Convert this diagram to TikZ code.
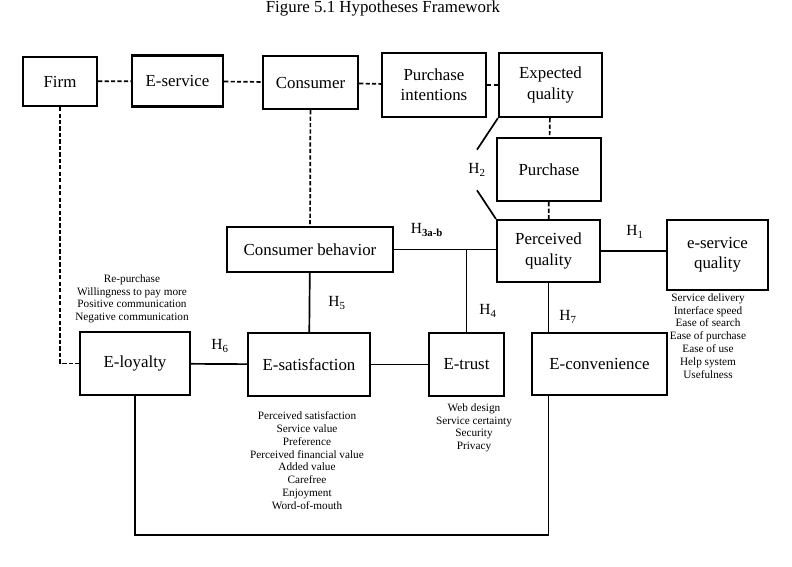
\documentclass[tikz,border=0pt]{standalone}
\usepackage{fontspec}
\setmainfont{Liberation Serif}
\usepackage{tikz}
\usetikzlibrary{positioning}

\begin{document}
\begin{tikzpicture}[x=0.025cm, y=-0.025cm,
    box/.style={draw, line width=1.5pt, align=center, inner sep=1pt,
      font=\fontsize{12}{14.5}\selectfont},
    link/.style={line width=1.2pt},
    dlink/.style={line width=1.2pt, dash pattern=on 3pt off 1.6pt},
    hyp/.style={font=\fontsize{11}{13}\selectfont, inner sep=1pt},
    attr/.style={align=center, inner sep=0pt, anchor=north,
      font=\fontsize{8}{9.2}\selectfont}]
  \useasboundingbox (0,0) rectangle (792,567);
  % Title
  \node[anchor=base, font=\fontsize{12}{14}\selectfont] (title) at (383,12)
    {Figure 5.1 Hypotheses Framework};
  % Top row
  \node[box, minimum width=1.85cm, minimum height=1.225cm] (firm) at (60,81.5) {Firm};
  \node[box, minimum width=2.275cm, minimum height=1.275cm] (eserv) at (177.5,81) {E-service};
  \node[box, minimum width=2.375cm, minimum height=1.325cm] (cons) at (310.5,82.5) {Consumer};
  \node[box, minimum width=2.6cm, minimum height=1.6cm] (pint) at (434,85)
    {Purchase\\intentions};
  \node[box, minimum width=2.575cm, minimum height=1.6cm] (expq) at (550.5,85)
    {Expected\\quality};
  \node[box, minimum width=2.6cm, minimum height=1.575cm] (purch) at (549,169.5) {Purchase};
  % Middle row
  \node[box, minimum width=2.575cm, minimum height=1.55cm] (percq) at (548.5,251)
    {Perceived\\quality};
  \node[box, minimum width=2.525cm, minimum height=1.75cm] (esq) at (717.5,255)
    {e-service\\quality};
  \node[box, minimum width=4.15cm, minimum height=1.125cm] (cbeh) at (310,249.5)
    {Consumer behavior};
  % Bottom row
  \node[box, minimum width=2.75cm, minimum height=1.575cm] (eloy) at (135,363.5) {E-loyalty};
  \node[box, minimum width=3.05cm, minimum height=1.575cm] (esat) at (309,364.5) {E-satisfaction};
  \node[box, minimum width=1.875cm, minimum height=1.575cm] (etrust) at (466.5,364.5) {E-trust};
  \node[box, minimum width=3.375cm, minimum height=1.55cm] (econv) at (599.5,364) {E-convenience};
  % Attributes
  \node[attr] (loyattr) at (132,274)
    {Re-purchase\\Willingness to pay more\\Positive communication\\Negative communication};
  \node[attr] (satattr) at (307,411)
    {Perceived satisfaction\\Service value\\Preference\\Perceived financial value\\
     Added value\\Carefree\\Enjoyment\\Word-of-mouth};
  \node[attr] (trustattr) at (474,403)
    {Web design\\Service certainty\\Security\\Privacy};
  \node[attr] (esqattr) at (708,293)
    {Service delivery\\Interface speed\\Ease of search\\Ease of purchase\\
     Ease of use\\Help system\\Usefulness};
  % Hypotheses labels
  \node[hyp] (h1) at (635,232) {H\textsubscript{1}};
  \node[hyp, minimum height=1cm, inner sep=0pt] (h2) at (477,170) {H\textsubscript{2}};
  \node[hyp] (h3) at (427,230) {H\textsubscript{\textbf{3a-b}}};
  \node[hyp] (h4) at (488,311) {H\textsubscript{4}};
  \node[hyp] (h5) at (337,303) {H\textsubscript{5}};
  \node[hyp] (h6) at (220,346) {H\textsubscript{6}};
  \node[hyp] (h7) at (568,317) {H\textsubscript{7}};
  % Dashed links
  \draw[dlink] (firm) -- (eserv);
  \draw[dlink] (eserv) -- (cons);
  \draw[dlink] (cons) -- (pint);
  \draw[dlink] (pint) -- (expq);
  \draw[dlink] (expq) -- (purch);
  \draw[dlink] (purch) -- (percq);
  \draw[dlink] (cons) -- (cbeh);
  \draw[dlink] (firm.south) |- (eloy.west);
  % Solid links
  \draw[link] (expq.south west) -- (h2.north) (h2.south) -- (percq.north west);
  \draw[link] (cbeh.east) -- (cbeh.east -| percq.west);
  \draw[link] (etrust.north) -- (etrust.north |- cbeh.east);
  \draw[link] (percq.east) -- (percq.east -| esq.west);
  \draw[link] (percq.south) -- (percq.south |- econv.north);
  \draw[link] (cbeh) -- (esat);
  \draw[link] (eloy) -- (esat);
  \draw[link] (esat) -- (etrust);
  \coordinate (loop) at (548.5,535);
  \draw[link] (eloy.south) |- (loop) -- (loop |- econv.south);
\end{tikzpicture}
\end{document}
